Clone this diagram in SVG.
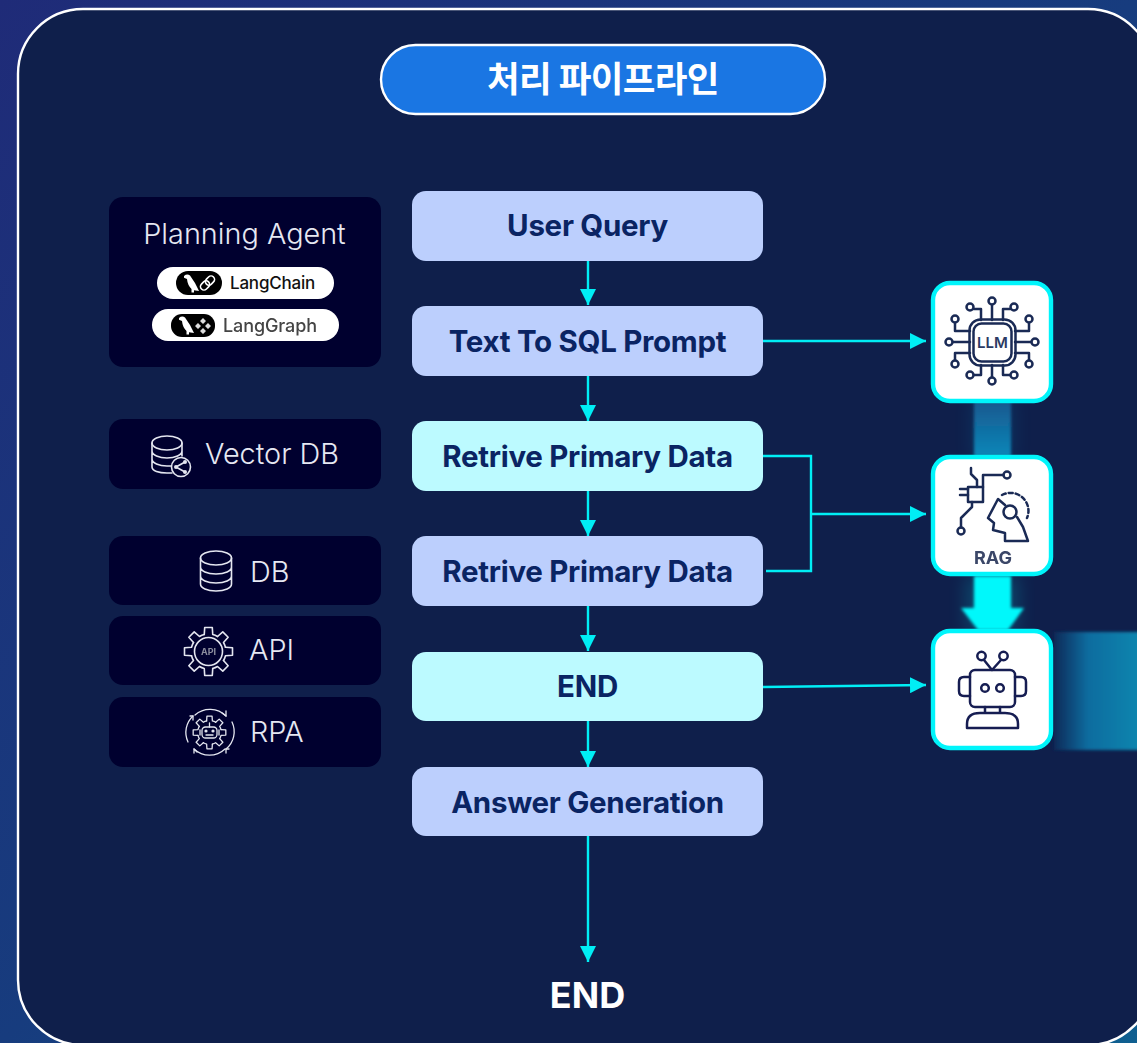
<svg xmlns="http://www.w3.org/2000/svg" width="1137" height="1043" viewBox="0 0 1137 1043">
<style>
.side{fill:#00002f}
.flow{fill:#bccffd}
.hi{fill:#bcfaff}
.ft{font:700 29.5px Inter,"Noto Sans",sans-serif;fill:#0a2463;text-anchor:middle;letter-spacing:-.3px}
.st{font:300 28.8px Inter,"Noto Sans",sans-serif;fill:#e6e8f2}
.pill{fill:#fff}
.tool{fill:#fff;stroke:#00f5fb;stroke-width:4.4}
.c{fill:none;stroke:#00eef5;stroke-width:2.4}
.i{fill:none;stroke:#e4e6f0;stroke-width:1.6;stroke-linecap:round;stroke-linejoin:round}
.d{fill:none;stroke:#1a2a55;stroke-width:2.5;stroke-linecap:round;stroke-linejoin:round}
.b{fill:#000}
.w{fill:#fff}
.wl{fill:none;stroke:#fff;stroke-width:1.6}
</style>
<defs>
<linearGradient id="bg" x1="0" y1="0" x2="1" y2="1"><stop offset="0" stop-color="#1f2b78"/><stop offset=".5" stop-color="#173c7e"/><stop offset="1" stop-color="#0f5f90"/></linearGradient>
<linearGradient id="beam1" x1="0" y1="0" x2="0" y2="1"><stop offset="0" stop-color="#14598f"/><stop offset="1" stop-color="#0e86b8"/></linearGradient>
<linearGradient id="beam3" x1="0" y1="0" x2="1" y2="0"><stop offset="0" stop-color="#0f2a58"/><stop offset=".38" stop-color="#0a6c9f"/><stop offset="1" stop-color="#0b88b0"/></linearGradient>
<filter id="soft" x="-30%" y="-30%" width="160%" height="160%"><feGaussianBlur stdDeviation="1.5"/></filter>
<filter id="s1" x="-10%" y="-20%" width="120%" height="140%"><feGaussianBlur stdDeviation=".55"/></filter>
<filter id="glow" x="-60%" y="-30%" width="220%" height="160%"><feGaussianBlur stdDeviation="9"/></filter>
<marker id="ah" markerUnits="userSpaceOnUse" markerWidth="16" markerHeight="16" refX="16" refY="8" orient="auto"><path d="M0 0L16 8L0 16Z" fill="#00eef5"/></marker>
<path id="tooth" d="M-4.23 -16.98L-3.8 -24H3.8L4.23 -16.98A17.5 17.5 0 0 1 9.01 -15"/>
<g id="gear">
<use href="#tooth"/><use href="#tooth" transform="rotate(45)"/><use href="#tooth" transform="rotate(90)"/><use href="#tooth" transform="rotate(135)"/><use href="#tooth" transform="rotate(180)"/><use href="#tooth" transform="rotate(225)"/><use href="#tooth" transform="rotate(270)"/><use href="#tooth" transform="rotate(315)"/>
</g>
<path id="bird" d="M184 276Q187 273.500 190 275.500L195 283L199 291L194 290.300V292.500H191.500V289Q187.500 285 187 279L184 277.800Z"/>
</defs>

<rect width="1137" height="1043" fill="url(#bg)"/>
<rect id="panel" x="18" y="9" width="1135" height="1036" rx="65" fill="#0f1f4b" stroke="#fff" stroke-width="2.4"/>

<g id="beams">
<rect x="972" y="400" width="42" height="58" fill="#0e86b8" opacity=".18" filter="url(#glow)"/>
<rect x="974" y="402" width="37" height="54" fill="url(#beam1)" filter="url(#soft)"/>
<rect x="966" y="576" width="52" height="56" fill="#00f5fb" opacity=".18" filter="url(#glow)"/>
<path d="M974 576H1011V608H1024L1008 630H978L961 608H974Z" fill="#00f8fb" filter="url(#soft)"/>
<rect x="1054" y="632" width="90" height="118" fill="url(#beam3)" filter="url(#soft)"/>
</g>

<g id="title">
<rect x="381" y="45" width="444" height="69" rx="34.5" fill="#1a76e3" stroke="#fff" stroke-width="2.4"/>
<text x="603" y="92" text-anchor="middle" style="font:700 35.500px 'Noto Sans CJK KR',sans-serif;fill:#fff;letter-spacing:-.6px">처리 파이프라인</text>
</g>

<g id="connectors">
<path class="c" d="M588 261V305" marker-end="url(#ah)"/>
<path class="c" d="M588 376V421" marker-end="url(#ah)"/>
<path class="c" d="M588 491V536" marker-end="url(#ah)"/>
<path class="c" d="M588 606V651" marker-end="url(#ah)"/>
<path class="c" d="M588 721V767" marker-end="url(#ah)"/>
<path class="c" d="M588 836V962" marker-end="url(#ah)"/>
<path class="c" d="M763 341H926" marker-end="url(#ah)"/>
<path class="c" d="M763 456H811V571H766"/>
<path class="c" d="M811 514H926" marker-end="url(#ah)"/>
<path class="c" d="M763 687L926 685" marker-end="url(#ah)"/>
</g>

<g id="node-user-query"><rect class="flow" x="412" y="191" width="351" height="70" rx="14"/><text class="ft" x="587.500" y="236">User Query</text></g>
<g id="node-text-to-sql"><rect class="flow" x="412" y="306" width="351" height="70" rx="14"/><text class="ft" x="587.500" y="352">Text To SQL Prompt</text></g>
<g id="node-retrive-1"><rect class="hi" x="412" y="421" width="351" height="70" rx="14"/><text class="ft" x="587.500" y="467">Retrive Primary Data</text></g>
<g id="node-retrive-2"><rect class="flow" x="412" y="536" width="351" height="70" rx="14"/><text class="ft" x="587.500" y="582">Retrive Primary Data</text></g>
<g id="node-end-mid"><rect class="hi" x="412" y="652" width="351" height="69" rx="14"/><text class="ft" x="587.500" y="697">END</text></g>
<g id="node-answer"><rect class="flow" x="412" y="767" width="351" height="69" rx="14"/><text class="ft" x="587.500" y="813">Answer Generation</text></g>
<g id="node-end"><text x="587.500" y="1008" text-anchor="middle" style="font:700 36px Inter,'Noto Sans',sans-serif;fill:#fff">END</text></g>

<g id="node-planning">
<rect class="side" x="109" y="197" width="272" height="170" rx="14"/>
<text x="244.500" y="244" text-anchor="middle" style="font:300 28.800px Inter,'Noto Sans',sans-serif;fill:#e6e8f2">Planning Agent</text>
<rect class="pill" x="157" y="267" width="177" height="32" rx="16"/>
<rect class="b" x="176" y="271" width="46" height="24" rx="12"/>
<use href="#bird" class="w"/>
<g transform="rotate(-45 207.500 283)"><rect class="wl" x="199" y="279.500" width="10" height="7" rx="3.500"/><rect class="wl" x="206" y="279.500" width="10" height="7" rx="3.500"/></g>
<text x="230" y="289" style="font:500 17px Inter,'Noto Sans',sans-serif;fill:#111;letter-spacing:-.2px">LangChain</text>
<rect class="pill" x="152" y="309" width="187" height="32" rx="16"/>
<g filter="url(#s1)">
<rect class="b" x="171" y="314" width="44" height="23" rx="11"/>
<use href="#bird" class="w" transform="translate(-5 42)"/>
<path fill="#ddd" d="M203 318L206 321L203 324L200 321ZM203 328L206 331L203 334L200 331ZM198 323L201 326L198 329L195 326ZM208 323L211 326L208 329L205 326Z"/>
<text x="223" y="332" style="font:500 18px Inter,'Noto Sans',sans-serif;fill:#444;letter-spacing:-.1px">LangGraph</text>
</g>
</g>

<g id="node-vector-db">
<rect class="side" x="109" y="419" width="272" height="70" rx="14"/>
<g class="i">
<ellipse cx="167" cy="443" rx="15" ry="7"/>
<path d="M152 443V467C152 471 159 473 167 473H172M182 443V456M152 451C152 455 159 458 167 458S182 455 182 451M152 459C152 463 159 466 167 466H171"/>
<circle cx="181" cy="467" r="9.500"/>
<path d="M176 467L185 462M176 467L185 472"/>
</g>
<circle cx="176" cy="467" r="2" fill="#e4e6f0"/><circle cx="185" cy="462" r="2" fill="#e4e6f0"/><circle cx="185" cy="472" r="2" fill="#e4e6f0"/>
<text class="st" x="205" y="464">Vector DB</text>
</g>

<g id="node-db">
<rect class="side" x="109" y="536" width="272" height="69" rx="14"/>
<g class="i">
<ellipse cx="216" cy="558" rx="15.500" ry="7"/>
<path d="M200.500 558V584C200.500 588 207 591 216 591S231.500 588 231.500 584V558M200.500 567C200.500 571 207 574 216 574S231.500 571 231.500 567M200.500 576C200.500 580 207 583 216 583S231.500 580 231.500 576"/>
</g>
<text class="st" x="250" y="582">DB</text>
</g>

<g id="node-api">
<rect class="side" x="109" y="616" width="272" height="69" rx="14"/>
<g class="i">
<use href="#gear" transform="translate(208.500 651.500)"/>
<circle cx="208.500" cy="651.500" r="14"/>
</g>
<text x="208.500" y="655" text-anchor="middle" filter="url(#s1)" style="font:700 9px Inter,sans-serif;fill:#8b8d9e">API</text>
<text class="st" x="249" y="660">API</text>
</g>

<g id="node-rpa">
<rect class="side" x="109" y="697" width="272" height="70" rx="14"/>
<g class="i" style="stroke-width:1.300">
<path d="M195 715A22.500 22.500 0 0 1 226 716M232 722A22.500 22.500 0 0 1 226 749M225 749A22.500 22.500 0 0 1 194 749M188 742A22.500 22.500 0 0 1 193 716"/>
<path d="M222 713L226 716L226 711M229 749L226 749L226 753M197 752L194 749L194 753M190 716L193 716L193 720"/>
<use href="#gear" transform="translate(209.500 732.500) scale(.68)" style="stroke-width:1.900"/>
<rect x="202" y="727" width="15" height="11" rx="3.500"/>
<path d="M200 730V735M219 730V735M209.500 727V723M206 735H213"/>
</g>
<circle cx="206" cy="731" r="1.600" fill="#e4e6f0"/><circle cx="213" cy="731" r="1.600" fill="#e4e6f0"/>
<text class="st" x="250" y="742">RPA</text>
</g>

<g id="node-llm">
<rect class="tool" x="933" y="283" width="118" height="118" rx="17"/>
<g class="d">
<rect x="969.500" y="319.500" width="46" height="46" rx="11"/>
<rect x="973.500" y="323.500" width="38" height="38" rx="8"/>
<path d="M992 301V320M981 320V309H974M1003 320V309H1010M970 331H955V320M1015 331H1029V320M970 342H953M1015 342H1032M970 353H955V363M1015 353H1029V363M981 365V375H974M1003 365V375H1010M992 365V382"/>
</g>
<g fill="#fff" stroke="#1a2a55" stroke-width="2.500">
<circle cx="992" cy="301" r="3.500"/><circle cx="970" cy="307" r="3.500"/><circle cx="1014" cy="307" r="3.500"/><circle cx="955" cy="319" r="3.500"/><circle cx="1029" cy="319" r="3.500"/><circle cx="949" cy="342" r="3.500"/><circle cx="1035" cy="342" r="3.500"/><circle cx="955" cy="364" r="3.500"/><circle cx="1029" cy="364" r="3.500"/><circle cx="970" cy="375" r="3.500"/><circle cx="1014" cy="375" r="3.500"/><circle cx="992" cy="381" r="3.500"/>
</g>
<text x="992.500" y="348" text-anchor="middle" style="font:600 15px Inter,sans-serif;fill:#2b3a63">LLM</text>
</g>

<g id="node-rag">
<rect class="tool" x="933" y="457" width="118" height="117" rx="17"/>
<g class="d">
<rect x="968" y="487" width="15" height="15"/>
<path d="M971 468V474L977 480V487M983 487V475H1003.500M968 489H960M968 495H960M972 502V507L961 518V527.500"/>
<circle cx="1007" cy="475" r="3.500"/><circle cx="961" cy="531" r="3.500"/>
<path d="M1005 505L998 499L988 518L994 523L993 530L1005 533V541H1028L1023 527L1017 517"/>
<circle cx="1010" cy="512" r="6.500"/>
<path d="M1002 495A18 18 0 0 1 1027 518" stroke-dasharray="4 3"/>
</g>
<text x="993" y="564" text-anchor="middle" filter="url(#s1)" style="font:700 18px Inter,sans-serif;fill:#3a4668">RAG</text>
</g>

<g id="node-robot">
<rect class="tool" x="933" y="631" width="118" height="117" rx="17"/>
<g class="d" style="stroke:#161d52">
<circle cx="981.500" cy="656" r="4.200"/><circle cx="1003.500" cy="656" r="4.200"/>
<path d="M984 660L992 670L1001 660"/>
<rect x="970" y="670" width="45" height="37" rx="5"/>
<path d="M970 677H964Q959 677 959 682V691Q959 696 964 696H970M1015 677H1021Q1026 677 1026 682V691Q1026 696 1021 696H1015"/>
<circle cx="985" cy="688" r="3.800"/><circle cx="1000" cy="688" r="3.800"/>
<path d="M985 707V713M1000 707V713M967 728V724Q967 713 980 713H1005Q1018 713 1018 724V728Z"/>
</g>
</g>
</svg>
